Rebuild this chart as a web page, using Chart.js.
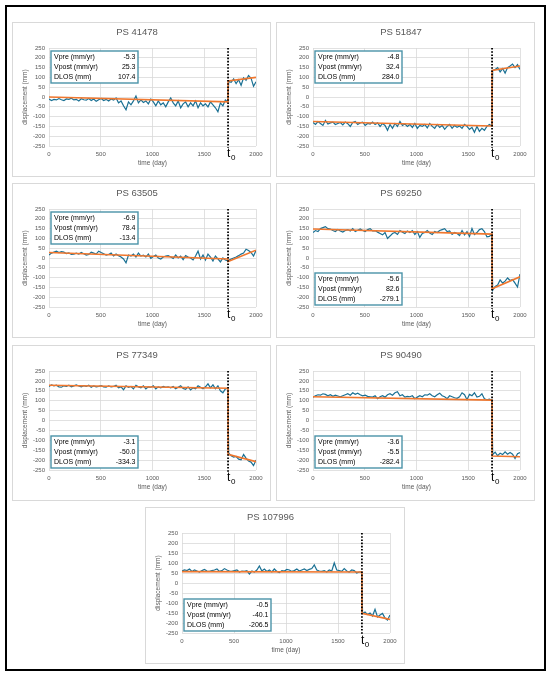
<!DOCTYPE html>
<html>
<head>
<meta charset="utf-8">
<script src="https://cdn.jsdelivr.net/npm/chart.js@4.4.1/dist/chart.umd.min.js"></script>
<style>
  html, body { margin: 0; padding: 0; background: #fff; }
  body { width: 550px; height: 676px; position: relative; overflow: hidden; }
  #frame { position: absolute; left: 5px; top: 5px; width: 541px; height: 666px; border: 2.5px solid #000; box-sizing: border-box; }
  .panel { position: absolute; border: 1px solid #d9d9d9; box-sizing: border-box; background: #fff; }
  .panel canvas { position: absolute; left: 0; top: 0; }
</style>
</head>
<body>
<div id="frame"></div>

<script>
// time axis of the measured series (days), shared by all points
const days = [
  0, 24, 48, 72, 96, 120, 144, 168, 192, 216, 240, 264,
  288, 312, 336, 360, 384, 408, 432, 456, 480, 504, 528, 552,
  576, 600, 624, 648, 672, 696, 720, 744, 768, 792, 816, 840,
  864, 888, 912, 936, 960, 984, 1008, 1032, 1056, 1080, 1104, 1128,
  1152, 1176, 1200, 1224, 1248, 1272, 1296, 1320, 1344, 1368, 1392, 1416,
  1440, 1464, 1488, 1512, 1536, 1560, 1584, 1608, 1632, 1656, 1680, 1704,
  1728,
  1736, 1760, 1784, 1808, 1832, 1856, 1880, 1904, 1928, 1952, 1976, 2000
];
const t0Day = 1730;
const fitDays = [0, 1730, 1730, 2000];

const titles = ["PS 41478", "PS 51847", "PS 63505", "PS 69250", "PS 77349", "PS 90490", "PS 107996"];
const statLabels = ["Vpre (mm/yr)", "Vpost (mm/yr)", "DLOS (mm)"];
const xTicks = [0, 500, 1000, 1500, 2000];
const yTicks = [-250, -200, -150, -100, -50, 0, 50, 100, 150, 200, 250];

const ps41478 = [
  -10, -18, -12, -15, -8, -14, -18, -10, -12, -6, -15, -12,
  -20, -9, -14, -16, -8, -18, -10, -22, -14, -8, -18, -12,
  -20, -10, -16, -5, -30, -20, -45, -65, -25, -40, -20, 5,
  -30, -15, -28, -20, -35, -10, -25, -45, -20, -40, -30, -50,
  -25, -5, -30, -45, -20, -55, -35, -25, -50, -30, -45, -20,
  -55, -30, -45, -35, -50, -25, -40, -55, -75, -30, -45, -15,
  -25,
  80, 75, 92, 68, 88, 60, 98, 85, 110, 96, 55, 78
];
const ps41478Fit = [0, -25, 82, 100];
const ps41478Stats = ["-5.3", "25.3", "107.4"];

const ps51847 = [
  -130, -140, -125, -135, -145, -120, -138, -132, -128, -140, -135, -130,
  -142, -128, -136, -150, -130, -125, -140, -132, -128, -145, -135, -138,
  -128, -140, -132, -150, -135, -145, -170, -140, -160, -135, -150, -125,
  -145, -138, -150, -140, -155, -135, -160, -145, -150, -140, -158, -135,
  -150, -160, -140, -155, -145, -165, -150, -140, -160, -145, -155, -148,
  -160, -140, -150, -165, -155, -180, -150, -175, -160, -170, -150, -140,
  -148,
  135, 140, 150, 128, 145, 122, 150, 158, 168, 150, 165, 140
];
const ps51847Fit = [-125, -148, 136, 158];
const ps51847Stats = ["-4.8", "32.4", "284.0"];

const ps63505 = [
  15, 25, 30, 35, 28, 32, 30, 22, 26, 18, 20, 25,
  20, 28, 22, 15, 18, 30, 25, 20, 35, 28, 22, 15,
  18, 25, 10, 20, 12, 5, -5, -25, 15, 10, 20, 5,
  25, 10, 15, 5, 20, -2, 8, 15, 0, -5, 5, 10,
  12, 5, -2, 15, 0, 10, -8, 12, 5, 0, -10, 10,
  35, -5, 15, -10, 20, 5, -15, 10, -5, -20, 0, -10,
  -15,
  -12, -5, 0, 5, 12, 20, 25, 45, 38, 28, 10, 38
];
const ps63505Fit = [28, -5, -18, 40];
const ps63505Stats = ["-6.9", "78.4", "-13.4"];

const ps69250 = [
  130, 140, 135, 150, 155, 160, 150, 148, 140, 135, 145, 138,
  132, 140, 145, 138, 150, 135, 142, 148, 140, 135, 145, 150,
  138, 140, 132, 125, 118, 130, 100, 112, 125, 130, 120, 140,
  132, 125, 138, 130, 140, 120, 135, 105, 125, 130, 140, 128,
  120, 135, 130, 140, 145, 150, 135, 138, 120, 130, 125, 115,
  140, 118, 135, 110, 150, 120, 130, 145, 150, 135, 108, 110,
  122,
  -165, -145, -138, -112, -128, -118, -102, -115, -110, -128, -148, -82
];
const ps69250Fit = [148, 122, -157, -96];
const ps69250Stats = ["-5.6", "82.6", "-279.1"];

const ps77349 = [
  172, 180, 175, 178, 170, 168, 175, 172, 178, 170, 175, 180,
  174, 170, 176, 172, 178, 168, 175, 170, 172, 176, 170, 168,
  175, 170, 172, 178, 165, 170, 155, 175, 168, 172, 160, 178,
  170, 165, 175, 160, 170, 168, 175, 160, 170, 165, 172, 168,
  170, 165, 172, 160, 168, 175, 162, 158, 170, 155, 165, 160,
  175, 168, 160, 170, 185, 165, 180, 160, 175, 150, 140, 160,
  163,
  -165, -178, -185, -182, -195, -198, -172, -190, -205, -210, -228, -200
];
const ps77349Fit = [178, 163, -171, -208];
const ps77349Stats = ["-3.1", "-50.0", "-334.3"];

const ps90490 = [
  118, 125, 130, 128, 135, 132, 125, 130, 122, 128, 124, 120,
  125, 130, 135, 128, 140, 132, 138, 130, 125, 128, 122, 120,
  118, 125, 110, 120, 125, 118, 130, 135, 128, 140, 145, 125,
  130, 118, 122, 120, 125, 110, 118, 125, 120, 130, 128, 135,
  125, 120, 130, 138, 125, 120, 110, 125, 120, 115, 112, 120,
  140, 130, 105, 132, 125, 140, 118, 122, 135, 110, 105, 108,
  103,
  -172, -160, -178, -165, -172, -158, -170, -162, -170, -192, -168, -162
];
const ps90490Fit = [120, 103, -179, -183];
const ps90490Stats = ["-3.6", "-5.5", "-282.4"];

const ps107996 = [
  60, 65, 62, 70, 58, 65, 60, 55, 62, 68, 60, 58,
  62, 65, 70, 58, 62, 72, 65, 60, 58, 62, 65, 55,
  60, 58, 62, 45, 60, 55, 65, 85, 60, 70, 58, 65,
  55, 70, 58, 52, 62, 60, 68, 65, 58, 62, 70, 60,
  65, 70, 62, 68, 72, 90, 65, 60, 58, 62, 55, 65,
  60, 100, 65, 62, 58, 72, 60, 55, 65, 62, 50, 55,
  55,
  -152, -145, -158, -150, -165, -132, -170, -160, -152, -175, -185, -160
];
const ps107996Fit = [57, 55, -152, -182];
const ps107996Stats = ["-0.5", "-40.1", "-206.5"];

// panel placement on the page (left, top, width, height) and where the stats box sits
const panels = [
  { title: titles[0], meas: ps41478,  fit: ps41478Fit,  stats: ps41478Stats,  box: "top",    rect: [12, 22, 259, 155] },
  { title: titles[1], meas: ps51847,  fit: ps51847Fit,  stats: ps51847Stats,  box: "top",    rect: [276, 22, 259, 155] },
  { title: titles[2], meas: ps63505,  fit: ps63505Fit,  stats: ps63505Stats,  box: "top",    rect: [12, 183, 259, 155] },
  { title: titles[3], meas: ps69250,  fit: ps69250Fit,  stats: ps69250Stats,  box: "bottom", rect: [276, 183, 259, 155] },
  { title: titles[4], meas: ps77349,  fit: ps77349Fit,  stats: ps77349Stats,  box: "bottom", rect: [12, 345, 259, 156] },
  { title: titles[5], meas: ps90490,  fit: ps90490Fit,  stats: ps90490Stats,  box: "bottom", rect: [276, 345, 259, 156] },
  { title: titles[6], meas: ps107996, fit: ps107996Fit, stats: ps107996Stats, box: "bottom", rect: [145, 507, 260, 157] }
];

const FONT = "'Liberation Sans', Arial, sans-serif";
Chart.defaults.font.family = FONT;
Chart.defaults.color = "#595959";

// dotted t0 line, t0 label and the stats box
const markPlugin = {
  id: "mark",
  afterDatasetsDraw(chart, args, opts) {
    const { ctx, chartArea, scales } = chart;
    const x = scales.x.getPixelForValue(t0Day);
    ctx.save();
    ctx.strokeStyle = "#000";
    ctx.lineWidth = 1.8;
    ctx.setLineDash([1.6, 1.6]);
    ctx.beginPath();
    ctx.moveTo(x, chartArea.top);
    ctx.lineTo(x, chartArea.bottom + 2);
    ctx.stroke();
    ctx.setLineDash([]);

    ctx.fillStyle = "#000";
    ctx.textAlign = "left";
    ctx.textBaseline = "alphabetic";
    ctx.font = "12px " + FONT;
    ctx.fillText("t", x - 1, chartArea.bottom + 11);
    const tw = ctx.measureText("t").width;
    ctx.font = "8px " + FONT;
    ctx.fillText("0", x - 1 + tw + 0.5, chartArea.bottom + 14);

    const bw = 87, bh = 32;
    const bx = chartArea.left + 2;
    const by = opts.box === "top" ? chartArea.top + 3 : chartArea.bottom - 2 - bh;
    ctx.fillStyle = "#fff";
    ctx.fillRect(bx, by, bw, bh);
    ctx.strokeStyle = "#4a93a8";
    ctx.lineWidth = 1.4;
    ctx.strokeRect(bx, by, bw, bh);
    ctx.fillStyle = "#000";
    ctx.font = "7px " + FONT;
    ctx.textBaseline = "middle";
    opts.stats.forEach((v, i) => {
      const y = by + 6.5 + i * 10;
      ctx.textAlign = "left";
      ctx.fillText(statLabels[i], bx + 3, y);
      ctx.textAlign = "right";
      ctx.fillText(v, bx + bw - 2.5, y);
    });
    ctx.restore();
  }
};

panels.forEach((p) => {
  const div = document.createElement("div");
  div.className = "panel";
  const [l, t, w, h] = p.rect;
  div.style.left = l + "px";
  div.style.top = t + "px";
  div.style.width = w + "px";
  div.style.height = h + "px";
  const cv = document.createElement("canvas");
  cv.width = w - 2;
  cv.height = h - 2;
  cv.style.width = (w - 2) + "px";
  cv.style.height = (h - 2) + "px";
  div.appendChild(cv);
  document.body.appendChild(div);

  new Chart(cv.getContext("2d"), {
    type: "line",
    data: {
      datasets: [
        {
          label: "fit",
          data: fitDays.map((d, i) => ({ x: d, y: p.fit[i] })),
          borderColor: "#f0772e",
          borderWidth: 1.6,
          pointRadius: 0,
          tension: 0
        },
        {
          label: "measured",
          data: days.map((d, i) => ({ x: d, y: p.meas[i] })),
          borderColor: "#1a7093",
          borderWidth: 1.2,
          pointRadius: 0,
          tension: 0
        }
      ]
    },
    options: {
      responsive: false,
      animation: false,
      layout: { padding: { top: 0, left: 5, right: 14, bottom: 2 } },
      plugins: {
        legend: { display: false },
        tooltip: { enabled: false },
        title: {
          display: true,
          text: p.title,
          color: "#595959",
          font: { size: 9.5, weight: "normal" },
          padding: { top: 4, bottom: 9.6 }
        },
        mark: { box: p.box, stats: p.stats }
      },
      scales: {
        x: {
          type: "linear",
          min: 0,
          max: 2000,
          afterBuildTicks: (s) => { s.ticks = xTicks.map((v) => ({ value: v })); },
          afterFit: (s) => { s.height = 28; },
          ticks: { font: { size: 6 }, color: "#595959", padding: 5, maxRotation: 0, callback: (v) => String(v) },
          grid: { color: "#d9d9d9", lineWidth: 0.8, drawTicks: false },
          border: { display: false },
          title: { display: true, text: "time (day)", color: "#595959", font: { size: 6.5 }, padding: { top: 0, bottom: 7 } }
        },
        y: {
          min: -250,
          max: 250,
          afterBuildTicks: (s) => { s.ticks = yTicks.map((v) => ({ value: v })); },
          afterFit: (s) => { s.width = 31; },
          ticks: { font: { size: 6 }, color: "#595959", padding: 4, autoSkip: false, callback: (v) => String(v) },
          grid: { color: "#d9d9d9", lineWidth: 0.8, drawTicks: false },
          border: { display: false },
          title: { display: true, text: "displacement (mm)", color: "#595959", font: { size: 6.5 }, padding: { top: 3, bottom: 0 } }
        }
      }
    },
    plugins: [markPlugin]
  });
});
</script>
</body>
</html>
